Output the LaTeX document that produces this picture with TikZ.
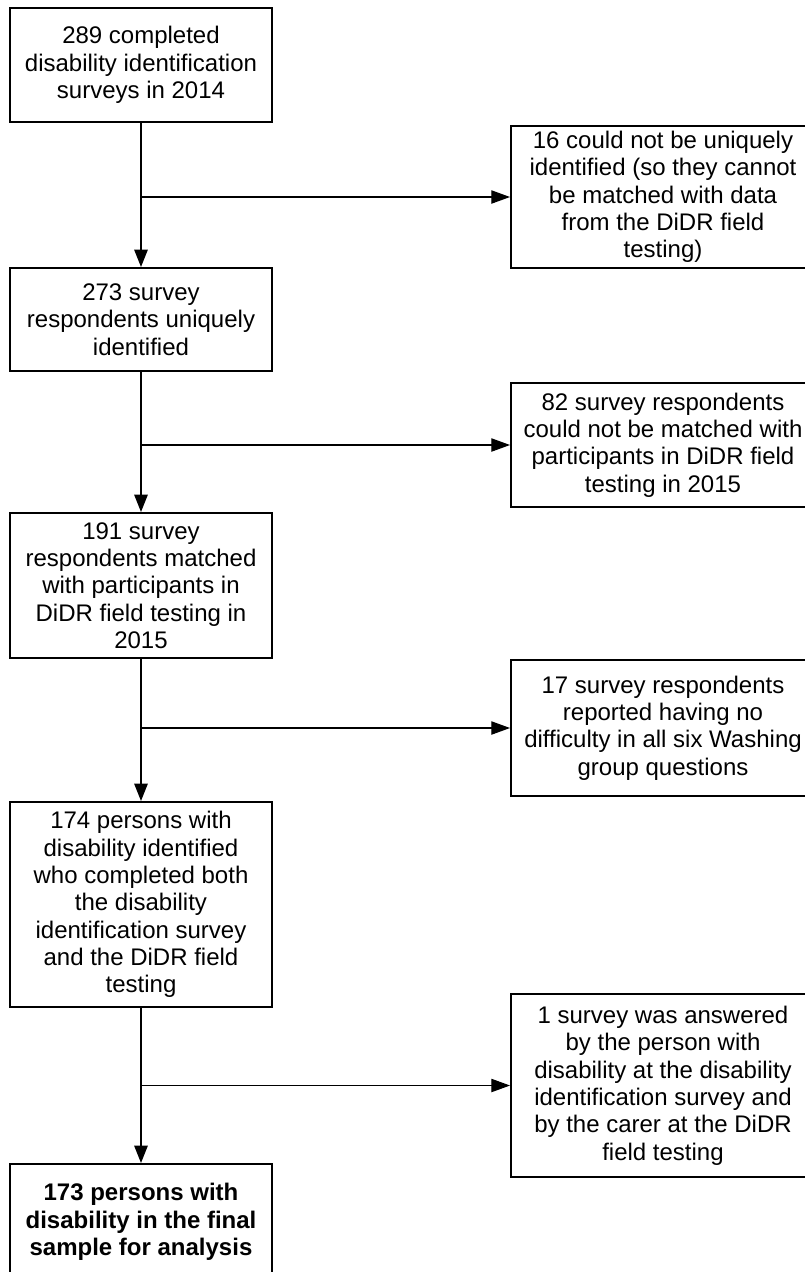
\documentclass[tikz,border=0pt]{standalone}
\usepackage{fontspec}
\setmainfont{Liberation Sans}
\usepackage{tikz}
\usetikzlibrary{arrows.meta,positioning}
\tikzset{
  box/.style={draw,line width=1.5pt,align=center,minimum width=196.5pt,inner sep=1pt,font=\fontsize{18}{20.5}\selectfont},
  sidebox/.style={box,minimum width=228pt},
  ar/.style={-{Triangle[length=13pt,width=10pt]},line width=1.2pt},
  sar/.style={-{Triangle[length=14pt,width=10pt]},line width=0.8pt}
}
\begin{document}
\begin{tikzpicture}[x=0.75pt,y=-0.75pt]
\path[use as bounding box,clip] (0,0) rectangle (805,1272);
% main column
\node[box,minimum height=85.5pt] (s1) at (141,65) {289 completed\\disability identification\\surveys in 2014};
\node[box,minimum height=77.25pt] (s2) at (141,319.5) {273 survey\\respondents uniquely\\identified};
\node[box,minimum height=108.75pt] (s3) at (141,585.5) {191 survey\\respondents matched\\with participants in\\DiDR field testing in\\2015};
\node[box,minimum height=153.75pt] (s4) at (141,904.5) {174 persons with\\disability identified\\who completed both\\the disability\\identification survey\\and the DiDR field\\testing};
\node[box,minimum height=87pt,font=\fontsize{18}{20.5}\selectfont\bfseries] (s5) at (141,1222) {173 persons with\\disability in the final\\sample for analysis};
% exclusions
\node[sidebox,minimum height=106.5pt] (r1) at (663,197) {16 could not be uniquely\\identified (so they cannot\\be matched with data\\from the DiDR field\\testing)};
\node[sidebox,minimum height=93pt] (r2) at (663,445) {82 survey respondents\\could not be matched with\\participants in DiDR field\\testing in 2015};
\node[sidebox,minimum height=102pt] (r3) at (663,728) {17 survey respondents\\reported having no\\difficulty in all six Washing\\group questions};
\node[sidebox,minimum height=137.25pt] (r4) at (663,1085.5) {1 survey was answered\\by the person with\\disability at the disability\\identification survey and\\by the carer at the DiDR\\field testing};
% branch points
\coordinate (j1) at (141,197);
\coordinate (j2) at (141,445);
\coordinate (j3) at (141,728);
\coordinate (j4) at (141,1085.5);
\draw[ar] (s1) -- (s2);
\draw[ar] (s2) -- (s3);
\draw[ar] (s3) -- (s4);
\draw[ar] (s4) -- (s5);
\draw[sar] (j1) -- (r1);
\draw[sar] (j2) -- (r2);
\draw[sar] (j3) -- (r3);
\draw[sar] (j4) -- (r4);
\end{tikzpicture}
\end{document}
